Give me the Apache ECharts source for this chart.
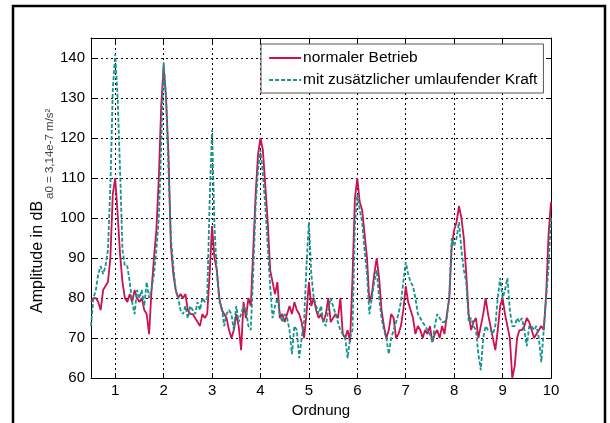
<!DOCTYPE html>
<html>
<head>
<meta charset="utf-8">
<script src="https://cdn.jsdelivr.net/npm/echarts@6/dist/echarts.min.js"></script>
<style>
  html, body { margin: 0; background: #fff; }
  #chart { width: 610px; height: 423px; }
</style>
</head>
<body>
<div id="chart"></div>
<script>
// Ordnung samples, 0.5 .. 10 in steps of 0.05
const ordnung = []
for (let i = 0; i <= 190; i++) {
  ordnung.push(String(+(0.5 + i * 0.05).toFixed(2)))
}

// normaler Betrieb (dB)
const normal = [
  79, 80, 80, 79, 77, 82, 83, 84, 90, 106,
  110, 101, 91, 84, 80, 79, 81, 79, 82, 80,
  79, 80, 77, 76, 71, 82, 90, 97, 110, 128,
  138, 130, 116, 93, 86, 82, 80, 81, 80, 81,
  77, 76, 76, 75, 74, 73, 76, 75, 76, 86,
  98, 90, 87, 80, 77, 76, 75, 72, 70, 72,
  76, 73, 67, 79, 75, 80, 78, 92, 106, 116,
  120, 117, 108, 99, 87, 84, 81, 84, 75, 76,
  74, 76, 78, 76, 79, 77, 76, 74, 70, 76,
  84, 78, 80, 77, 75, 76, 74, 76, 80, 74,
  75, 76, 75, 80, 71, 70, 72, 69, 85, 105,
  110, 104, 102, 96, 90, 79, 81, 86, 90, 85,
  77, 73, 70, 72, 76, 75, 70, 71, 73, 77,
  83, 79, 77, 75, 71, 73, 72, 70, 72, 71,
  73, 69, 71, 72, 70, 73, 71, 76, 80, 93,
  97, 99, 103, 100, 95, 86, 76, 72, 74, 75,
  70, 73, 76, 80, 76, 73, 70, 67, 72, 78,
  80, 76, 73, 70, 60, 63, 70, 72, 72, 73,
  75, 74, 72, 70, 71, 72, 73, 72, 81, 96,
  104
]

// mit zusätzlicher umlaufender Kraft (dB)
const mitKraft = [
  73, 80, 82, 86, 88, 86, 88, 92, 108, 132,
  141, 130, 112, 92, 88, 88, 84, 79, 76, 82,
  80, 82, 78, 84, 80, 82, 86, 92, 100, 118,
  139, 130, 112, 95, 88, 82, 80, 77, 76, 78,
  75, 78, 77, 76, 79, 77, 80, 79, 80, 104,
  122, 98, 86, 79, 78, 73, 76, 77, 76, 72,
  78, 74, 76, 78, 77, 73, 72, 86, 103, 112,
  117, 111, 103, 93, 83, 75, 78, 80, 76, 74,
  76, 75, 72, 66, 73, 72, 65, 70, 74, 88,
  99, 86, 80, 78, 76, 78, 74, 73, 77, 80,
  78, 76, 74, 72, 71, 70, 65, 70, 72, 98,
  106, 102, 99, 92, 86, 76, 80, 84, 87, 80,
  75, 72, 70, 66, 70, 72, 74, 76, 79, 84,
  89, 86, 84, 83, 80, 76, 75, 74, 73, 72,
  71, 69, 73, 76, 75, 74, 74, 75, 81, 95,
  93, 95, 99, 92, 87, 84, 74, 75, 73, 72,
  66, 62, 70, 73, 72, 72, 71, 73, 80, 85,
  80, 82, 85, 77, 73, 73, 75, 74, 75, 72,
  68, 73, 73, 72, 73, 70, 64, 72, 80, 88,
  100
]

const font = 'Liberation Sans, Arial, Helvetica, sans-serif'
// only whole orders get a tick / label / grid line
const atInteger = (index) => (index - 10) % 20 === 0

const chart = echarts.init(document.getElementById('chart'))

chart.setOption({
  animation: false,
  backgroundColor: '#fff',
  grid: { left: 91, right: 59, top: 38, bottom: 44 },
  legend: {
    orient: 'vertical',
    left: 261,
    top: 44,
    padding: [6, 6, 5, 7],
    itemWidth: 32,
    itemHeight: 14,
    itemGap: 6,
    backgroundColor: '#fff',
    borderColor: '#555',
    borderWidth: 1,
    borderRadius: 0,
    // hide the symbol ECharts puts in the middle of line icons
    itemStyle: { color: 'rgba(0,0,0,0)', borderColor: 'rgba(0,0,0,0)', borderWidth: 0 },
    lineStyle: { width: 2.2 },
    textStyle: { fontFamily: font, fontSize: 15.5, color: '#000', padding: [0, 0, 0, -3] },
    data: ['normaler Betrieb', 'mit zusätzlicher umlaufender Kraft']
  },
  xAxis: [
    {
      type: 'category',
      data: ordnung,
      boundaryGap: false,
      position: 'bottom',
      axisLine: { lineStyle: { color: '#000', width: 1 } },
      axisTick: { inside: true, length: 5, interval: atInteger, lineStyle: { color: '#000' } },
      axisLabel: {
        interval: atInteger,
        color: '#000',
        fontFamily: font,
        fontSize: 15,
        margin: 5,
        formatter: (v) => String(Math.round(Number(v)))
      },
      splitLine: {
        show: true,
        interval: atInteger,
        lineStyle: { color: '#000', width: 1, type: [2, 3] }
      },
      name: 'Ordnung',
      nameLocation: 'middle',
      nameGap: 23,
      nameTextStyle: { fontFamily: font, fontSize: 15, color: '#000' }
    },
    {
      type: 'category',
      data: ordnung,
      boundaryGap: false,
      position: 'top',
      axisLine: { lineStyle: { color: '#000', width: 1 } },
      axisTick: { inside: true, length: 5, interval: atInteger, lineStyle: { color: '#000' } },
      axisLabel: { show: false },
      splitLine: { show: false }
    }
  ],
  yAxis: [
    {
      type: 'value',
      min: 60,
      max: 145,
      interval: 10,
      position: 'left',
      axisLine: { show: true, lineStyle: { color: '#000', width: 1 } },
      axisTick: { show: true, inside: true, length: 5, lineStyle: { color: '#000' } },
      axisLabel: { color: '#000', fontFamily: font, fontSize: 15, margin: 6, showMaxLabel: false },
      splitLine: { show: true, lineStyle: { color: '#000', width: 1, type: [2, 3] } }
    },
    {
      type: 'value',
      min: 60,
      max: 145,
      interval: 10,
      position: 'right',
      axisLine: { show: true, lineStyle: { color: '#000', width: 1 } },
      axisTick: { show: true, inside: true, length: 5, lineStyle: { color: '#000' } },
      axisLabel: { show: false },
      splitLine: { show: false }
    }
  ],
  graphic: [
    {
      // outer figure frame
      type: 'rect',
      silent: true,
      shape: { x: 13, y: 6, width: 592, height: 440 },
      style: { fill: 'none', stroke: '#000', lineWidth: 2.5 }
    },
    {
      type: 'group',
      x: 38,
      y: 313,
      rotation: Math.PI / 2,
      silent: true,
      children: [
        {
          type: 'text',
          x: 0,
          y: 0,
          style: {
            text: 'Amplitude in dB',
            font: '16px ' + font,
            fill: '#000',
            textAlign: 'left',
            textVerticalAlign: 'middle'
          }
        },
        {
          type: 'text',
          x: 114,
          y: 12,
          style: {
            text: 'a0 = 3,14e-7 m/s²',
            font: '11.5px ' + font,
            fill: '#444',
            textAlign: 'left',
            textVerticalAlign: 'middle'
          }
        }
      ]
    }
  ],
  series: [
    {
      name: 'normaler Betrieb',
      type: 'line',
      data: normal,
      symbol: 'none',
      lineStyle: { color: '#cc1050', width: 1.8 },
      itemStyle: { color: '#cc1050' }
    },
    {
      name: 'mit zusätzlicher umlaufender Kraft',
      type: 'line',
      data: mitKraft,
      symbol: 'none',
      lineStyle: { color: '#16928f', width: 1.8, type: [4, 2] },
      itemStyle: { color: '#16928f' }
    }
  ]
})
</script>
</body>
</html>
